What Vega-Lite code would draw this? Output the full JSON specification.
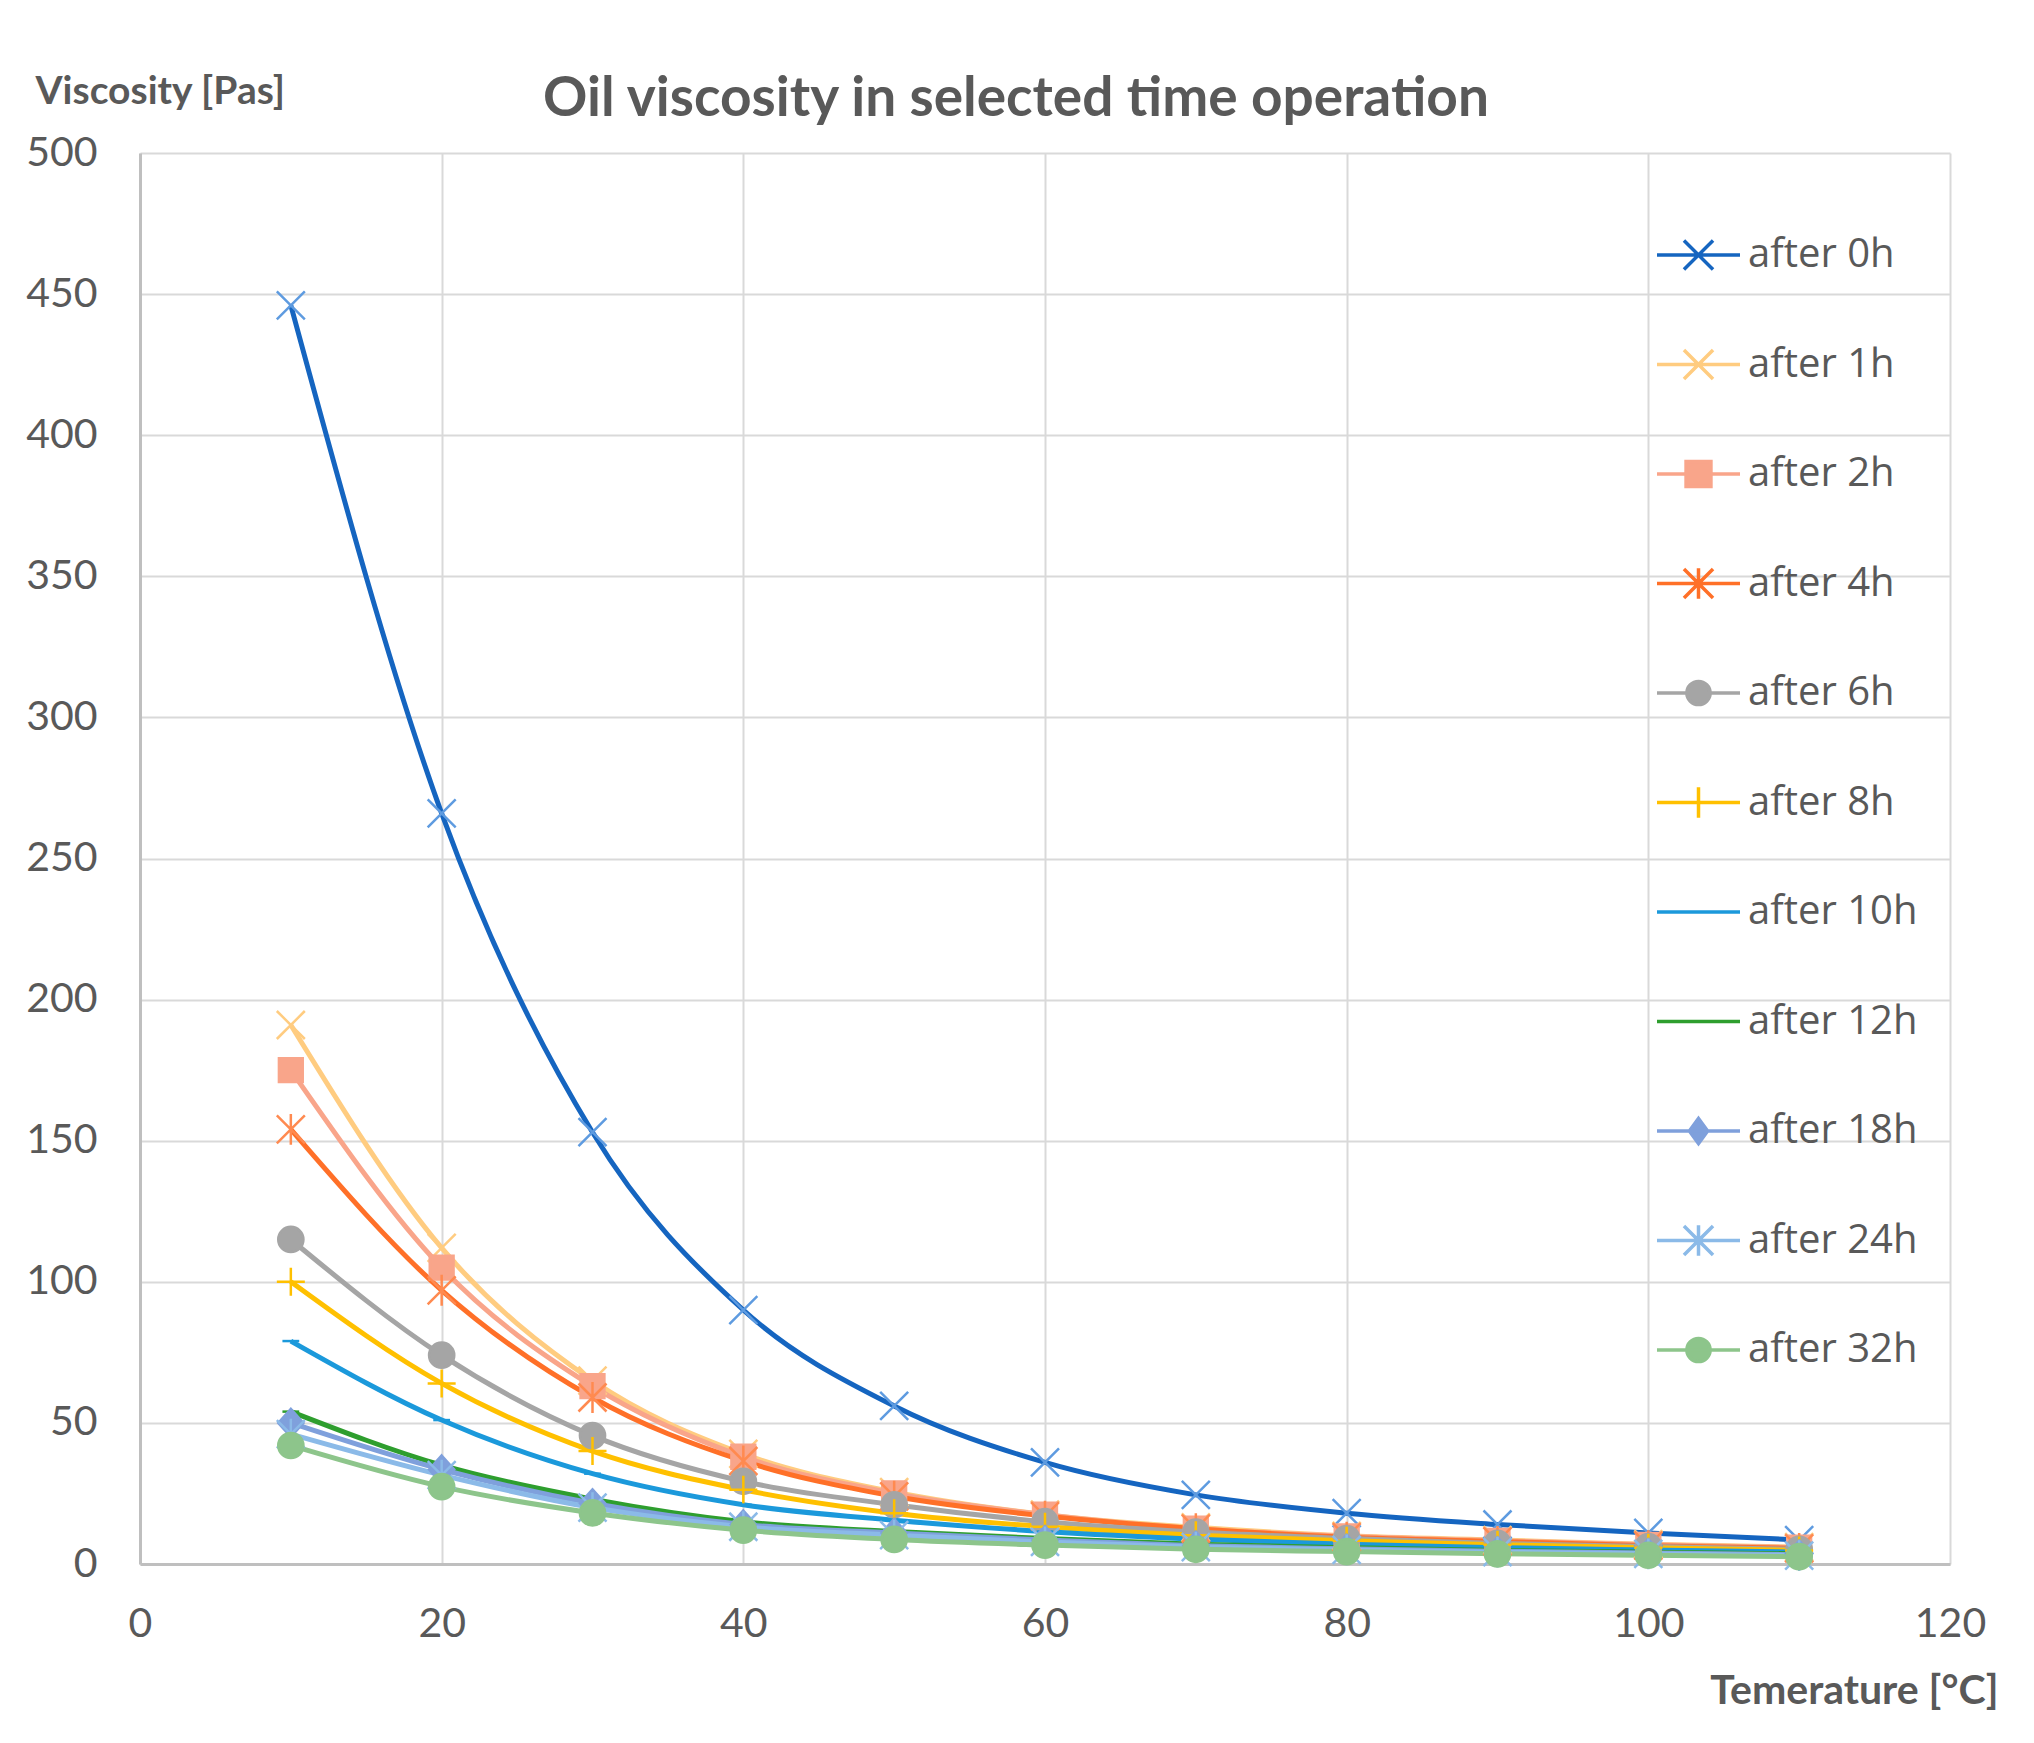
{
  "$schema": "https://vega.github.io/schema/vega-lite/v6.json",
  "description": "Oil viscosity against temperature after selected operating times.",
  "autosize": "none",
  "padding": {"left": 140, "top": 153, "right": 84, "bottom": 179},
  "width": 1810,
  "height": 1411,
  "title": {
    "text": "Oil viscosity in selected time operation",
    "font": "Lato",
    "fontSize": 55,
    "fontWeight": "bold",
    "color": "#595959",
    "anchor": "middle",
    "baseline": "alphabetic",
    "dx": -29,
    "offset": -99
  },
  "data": {
    "values": [
      {"t": 10, "series": "after 0h", "v": 446}, {"t": 20, "series": "after 0h", "v": 266}, {"t": 30, "series": "after 0h", "v": 153}, {"t": 40, "series": "after 0h", "v": 90}, {"t": 50, "series": "after 0h", "v": 56}, {"t": 60, "series": "after 0h", "v": 36}, {"t": 70, "series": "after 0h", "v": 24.5}, {"t": 80, "series": "after 0h", "v": 18}, {"t": 90, "series": "after 0h", "v": 14}, {"t": 100, "series": "after 0h", "v": 11}, {"t": 110, "series": "after 0h", "v": 8.5},
      {"t": 10, "series": "after 1h", "v": 191}, {"t": 20, "series": "after 1h", "v": 112}, {"t": 30, "series": "after 1h", "v": 65}, {"t": 40, "series": "after 1h", "v": 39}, {"t": 50, "series": "after 1h", "v": 25.5}, {"t": 60, "series": "after 1h", "v": 17.5}, {"t": 70, "series": "after 1h", "v": 13}, {"t": 80, "series": "after 1h", "v": 10}, {"t": 90, "series": "after 1h", "v": 8.5}, {"t": 100, "series": "after 1h", "v": 7}, {"t": 110, "series": "after 1h", "v": 6},
      {"t": 10, "series": "after 2h", "v": 175}, {"t": 20, "series": "after 2h", "v": 105}, {"t": 30, "series": "after 2h", "v": 63}, {"t": 40, "series": "after 2h", "v": 38}, {"t": 50, "series": "after 2h", "v": 25}, {"t": 60, "series": "after 2h", "v": 17.5}, {"t": 70, "series": "after 2h", "v": 12.5}, {"t": 80, "series": "after 2h", "v": 9.8}, {"t": 90, "series": "after 2h", "v": 8.2}, {"t": 100, "series": "after 2h", "v": 6.8}, {"t": 110, "series": "after 2h", "v": 5.8},
      {"t": 10, "series": "after 4h", "v": 154}, {"t": 20, "series": "after 4h", "v": 97}, {"t": 30, "series": "after 4h", "v": 59}, {"t": 40, "series": "after 4h", "v": 36.5}, {"t": 50, "series": "after 4h", "v": 24}, {"t": 60, "series": "after 4h", "v": 17}, {"t": 70, "series": "after 4h", "v": 12.5}, {"t": 80, "series": "after 4h", "v": 9.5}, {"t": 90, "series": "after 4h", "v": 8}, {"t": 100, "series": "after 4h", "v": 6.5}, {"t": 110, "series": "after 4h", "v": 5.5},
      {"t": 10, "series": "after 6h", "v": 115}, {"t": 20, "series": "after 6h", "v": 74}, {"t": 30, "series": "after 6h", "v": 45.5}, {"t": 40, "series": "after 6h", "v": 29.3}, {"t": 50, "series": "after 6h", "v": 21}, {"t": 60, "series": "after 6h", "v": 15}, {"t": 70, "series": "after 6h", "v": 11.3}, {"t": 80, "series": "after 6h", "v": 9}, {"t": 90, "series": "after 6h", "v": 7.3}, {"t": 100, "series": "after 6h", "v": 6.2}, {"t": 110, "series": "after 6h", "v": 5.2},
      {"t": 10, "series": "after 8h", "v": 100}, {"t": 20, "series": "after 8h", "v": 64}, {"t": 30, "series": "after 8h", "v": 40}, {"t": 40, "series": "after 8h", "v": 26.3}, {"t": 50, "series": "after 8h", "v": 18}, {"t": 60, "series": "after 8h", "v": 13.2}, {"t": 70, "series": "after 8h", "v": 10.2}, {"t": 80, "series": "after 8h", "v": 8.2}, {"t": 90, "series": "after 8h", "v": 6.8}, {"t": 100, "series": "after 8h", "v": 5.8}, {"t": 110, "series": "after 8h", "v": 4.8},
      {"t": 10, "series": "after 10h", "v": 79}, {"t": 20, "series": "after 10h", "v": 51}, {"t": 30, "series": "after 10h", "v": 32}, {"t": 40, "series": "after 10h", "v": 21}, {"t": 50, "series": "after 10h", "v": 15.5}, {"t": 60, "series": "after 10h", "v": 11.5}, {"t": 70, "series": "after 10h", "v": 8.8}, {"t": 80, "series": "after 10h", "v": 7}, {"t": 90, "series": "after 10h", "v": 5.8}, {"t": 100, "series": "after 10h", "v": 5}, {"t": 110, "series": "after 10h", "v": 4.2},
      {"t": 10, "series": "after 12h", "v": 54}, {"t": 20, "series": "after 12h", "v": 35}, {"t": 30, "series": "after 12h", "v": 23}, {"t": 40, "series": "after 12h", "v": 15}, {"t": 50, "series": "after 12h", "v": 11.5}, {"t": 60, "series": "after 12h", "v": 9}, {"t": 70, "series": "after 12h", "v": 7}, {"t": 80, "series": "after 12h", "v": 5.8}, {"t": 90, "series": "after 12h", "v": 4.8}, {"t": 100, "series": "after 12h", "v": 4.2}, {"t": 110, "series": "after 12h", "v": 3.6},
      {"t": 10, "series": "after 18h", "v": 50}, {"t": 20, "series": "after 18h", "v": 33.5}, {"t": 30, "series": "after 18h", "v": 21.5}, {"t": 40, "series": "after 18h", "v": 14}, {"t": 50, "series": "after 18h", "v": 11}, {"t": 60, "series": "after 18h", "v": 8.5}, {"t": 70, "series": "after 18h", "v": 6.5}, {"t": 80, "series": "after 18h", "v": 5.4}, {"t": 90, "series": "after 18h", "v": 4.5}, {"t": 100, "series": "after 18h", "v": 3.9}, {"t": 110, "series": "after 18h", "v": 3.3},
      {"t": 10, "series": "after 24h", "v": 46}, {"t": 20, "series": "after 24h", "v": 31.5}, {"t": 30, "series": "after 24h", "v": 20}, {"t": 40, "series": "after 24h", "v": 13.2}, {"t": 50, "series": "after 24h", "v": 10.2}, {"t": 60, "series": "after 24h", "v": 7.8}, {"t": 70, "series": "after 24h", "v": 6}, {"t": 80, "series": "after 24h", "v": 5}, {"t": 90, "series": "after 24h", "v": 4.2}, {"t": 100, "series": "after 24h", "v": 3.6}, {"t": 110, "series": "after 24h", "v": 3},
      {"t": 10, "series": "after 32h", "v": 42}, {"t": 20, "series": "after 32h", "v": 27.4}, {"t": 30, "series": "after 32h", "v": 18.1}, {"t": 40, "series": "after 32h", "v": 12}, {"t": 50, "series": "after 32h", "v": 8.7}, {"t": 60, "series": "after 32h", "v": 6.7}, {"t": 70, "series": "after 32h", "v": 5.2}, {"t": 80, "series": "after 32h", "v": 4.4}, {"t": 90, "series": "after 32h", "v": 3.6}, {"t": 100, "series": "after 32h", "v": 3.1}, {"t": 110, "series": "after 32h", "v": 2.6}
    ]
  },
  "encoding": {
    "x": {
      "field": "t",
      "type": "quantitative",
      "scale": {"domain": [0, 120], "nice": false},
      "axis": {
        "values": [0, 20, 40, 60, 80, 100, 120],
        "title": "Temerature [°C]",
        "titleFontSize": 41,
        "titleX": 1858,
        "titleY": 139,
        "titleAlign": "right",
        "titleBaseline": "alphabetic",
        "labelPadding": 60,
        "labelBaseline": "middle",
        "labelFlush": false
      }
    },
    "y": {
      "field": "v",
      "type": "quantitative",
      "scale": {"domain": [0, 500], "nice": false},
      "axis": {
        "values": [0, 50, 100, 150, 200, 250, 300, 350, 400, 450, 500],
        "title": "Viscosity [Pas]",
        "titleFontSize": 39,
        "titleAngle": 0,
        "titleX": -105,
        "titleY": -50,
        "titleAlign": "left",
        "titleBaseline": "alphabetic",
        "labelPadding": 43,
        "labelBaseline": "middle",
        "labelFlush": false
      }
    }
  },
  "layer": [
    {
      "mark": {"type": "line", "interpolate": "monotone", "strokeWidth": 5},
      "encoding": {
        "color": {
          "field": "series",
          "type": "nominal",
          "scale": {
            "domain": ["after 0h", "after 1h", "after 2h", "after 4h", "after 6h", "after 8h", "after 10h", "after 12h", "after 18h", "after 24h", "after 32h"],
            "range": ["#1565C0", "#FFCC80", "#F9A58A", "#FF7028", "#A5A5A5", "#FFC000", "#1B99DB", "#2E9E2E", "#7FA0DC", "#8BBAE8", "#8DC58B"]
          },
          "legend": {
            "title": null,
            "orient": "none",
            "legendX": 1515,
            "legendY": 82,
            "symbolType": "stroke",
            "symbolSize": 6889,
            "symbolStrokeWidth": 3.5,
            "clipHeight": 40,
            "labelFont": "Open Sans",
            "labelFontSize": 40,
            "labelColor": "#595959",
            "labelLimit": 400,
            "labelOffset": 6,
            "rowPadding": 69.5,
            "encode": {
              "symbols": {
                "update": {
                  "shape": {"signal": "['M-1,0L1,0M-0.35,-0.35L0.35,0.35M-0.35,0.35L0.35,-0.35', 'M-1,0L1,0M-0.35,-0.35L0.35,0.35M-0.35,0.35L0.35,-0.35', 'M-1,0L1,0M-0.3,-0.3L0.3,-0.3L0.3,0.3L-0.3,0.3Z', 'M-1,0L1,0M-0.35,-0.35L0.35,0.35M-0.35,0.35L0.35,-0.35M0,-0.37L0,0.37', 'M-1,0L1,0M-0.28,0A0.28,0.28,0,1,0,0.28,0A0.28,0.28,0,1,0,-0.28,0Z', 'M-1,0L1,0M0,-0.37L0,0.37', 'M-1,0L1,0', 'M-1,0L1,0', 'M-1,0L1,0M0,-0.3L0.22,0L0,0.3L-0.22,0Z', 'M-1,0L1,0M-0.35,-0.35L0.35,0.35M-0.35,0.35L0.35,-0.35M0,-0.37L0,0.37', 'M-1,0L1,0M-0.28,0A0.28,0.28,0,1,0,0.28,0A0.28,0.28,0,1,0,-0.28,0Z'][indexof(['after 0h', 'after 1h', 'after 2h', 'after 4h', 'after 6h', 'after 8h', 'after 10h', 'after 12h', 'after 18h', 'after 24h', 'after 32h'], datum.value)]"},
                  "fill": {"scale": "color", "field": "value"}
                }
              }
            }
          }
        }
      }
    },
    {
      "mark": {"type": "point", "filled": true, "size": 784, "strokeWidth": 2.5, "opacity": 1},
      "encoding": {
        "shape": {
          "field": "series",
          "type": "nominal",
          "legend": null,
          "sort": ["after 0h", "after 1h", "after 2h", "after 4h", "after 6h", "after 8h", "after 10h", "after 12h", "after 18h", "after 24h", "after 32h"],
          "scale": {
            "range": [
              "M-1,-1L1,1M-1,1L1,-1",
              "M-1,-1L1,1M-1,1L1,-1",
              "M-0.85,-0.85L0.85,-0.85L0.85,0.85L-0.85,0.85Z",
              "M-1,-1L1,1M-1,1L1,-1M0,-1.1L0,1.1",
              "M-0.9,0A0.9,0.9,0,1,0,0.9,0A0.9,0.9,0,1,0,-0.9,0Z",
              "M-1,0L1,0M0,-1L0,1",
              "M-0.6,0L0.6,0",
              "M-0.6,0L0.6,0",
              "M0,-1L0.9,0L0,1L-0.9,0Z",
              "M-1,-1L1,1M-1,1L1,-1M0,-1.1L0,1.1",
              "M-0.9,0A0.9,0.9,0,1,0,0.9,0A0.9,0.9,0,1,0,-0.9,0Z"
            ]
          }
        },
        "fill": {
          "field": "series",
          "type": "nominal",
          "legend": null,
          "sort": ["after 0h", "after 1h", "after 2h", "after 4h", "after 6h", "after 8h", "after 10h", "after 12h", "after 18h", "after 24h", "after 32h"],
          "scale": {"range": ["#5E9BE0", "#FFCC80", "#F9A58A", "#FF8A50", "#A5A5A5", "#FFC000", "#1B99DB", "#2E9E2E", "#7FA0DC", "#8BBAE8", "#8DC58B"]}
        },
        "stroke": {
          "field": "series",
          "type": "nominal",
          "legend": null,
          "sort": ["after 0h", "after 1h", "after 2h", "after 4h", "after 6h", "after 8h", "after 10h", "after 12h", "after 18h", "after 24h", "after 32h"],
          "scale": {"range": ["#5E9BE0", "#FFCC80", "#F9A58A", "#FF8A50", "#A5A5A5", "#FFC000", "#1B99DB", "#2E9E2E", "#7FA0DC", "#8BBAE8", "#8DC58B"]}
        }
      }
    }
  ],
  "config": {
    "background": "white",
    "font": "Lato",
    "view": {"stroke": null},
    "axis": {
      "grid": true,
      "gridColor": "#D9D9D9",
      "gridWidth": 2,
      "domainColor": "#BFBFBF",
      "domainWidth": 3,
      "ticks": false,
      "tickSize": 0,
      "labelFont": "Lato",
      "labelFontSize": 41,
      "labelColor": "#595959",
      "titleFont": "Lato",
      "titleFontWeight": "bold",
      "titleColor": "#595959"
    }
  }
}
